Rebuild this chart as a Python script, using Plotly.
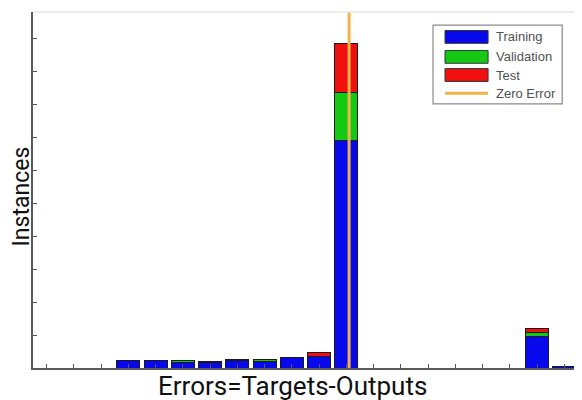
import plotly.graph_objects as go

# Error histogram with 20 bins (MATLAB ploterrhist style)
bin_centers = [-1.1, -1.0, -0.9, -0.8, -0.7, -0.6, -0.5, -0.4, -0.3, -0.2,
               -0.1, 0.0, 0.1, 0.2, 0.3, 0.4, 0.5, 0.6, 0.7, 0.8]
training =   [0, 0, 0, 22, 22, 18, 16, 22, 20, 32, 35, 690, 0, 0, 0, 0, 0, 0, 97, 5]
validation = [0, 0, 0, 0, 0, 4, 0, 0, 6, 0, 0, 145, 0, 0, 0, 0, 0, 0, 12, 0]
test =       [0, 0, 0, 0, 0, 0, 4, 5, 0, 0, 13, 148, 0, 0, 0, 0, 0, 0, 12, 0]
zero_error = 0.01

series_names = ["Training", "Validation", "Test"]
series_colors = ["#0808ec", "#14c814", "#f01010"]
zero_name = "Zero Error"
zero_color = "#f2b24a"

y_max = 1080
y_ticks = list(range(0, 1001, 100))

fig = go.Figure()
for name, vals, col in zip(series_names, [training, validation, test], series_colors):
    fig.add_trace(go.Bar(
        x=bin_centers, y=vals, name=name,
        marker=dict(color=col, line=dict(color="#1a1a1a", width=1)),
        showlegend=False,
    ))

fig.add_trace(go.Scatter(
    x=[zero_error, zero_error], y=[0, y_max], mode="lines",
    line=dict(color=zero_color, width=3), name=zero_name, showlegend=False,
))

# Custom legend (wide swatches like MATLAB)
shapes = []
annotations = []
lx0, lx1 = 0.734, 0.971
ly0, ly1 = 0.742, 0.963
shapes.append(dict(type="rect", xref="paper", yref="paper", x0=lx0, x1=lx1, y0=ly0, y1=ly1,
                   line=dict(color="#8a8a8a", width=1.2), fillcolor="white", layer="above"))
entry_y = [0.930, 0.874, 0.823, 0.772]
sw_x0, sw_x1 = 0.756, 0.835
half_h = 0.018
for i, (name, col) in enumerate(zip(series_names, series_colors)):
    yc = entry_y[i]
    shapes.append(dict(type="rect", xref="paper", yref="paper", x0=sw_x0, x1=sw_x1,
                       y0=yc - half_h, y1=yc + half_h, fillcolor=col,
                       line=dict(color="#333333", width=1), layer="above"))
for i, name in enumerate(series_names + [zero_name]):
    annotations.append(dict(xref="paper", yref="paper", x=0.845, y=entry_y[i], text=name,
                            showarrow=False, xanchor="left", yanchor="middle",
                            font=dict(family="Liberation Sans, Arial", size=13, color="#505050")))
shapes.append(dict(type="line", xref="paper", yref="paper", x0=sw_x0, x1=sw_x1,
                   y0=entry_y[3], y1=entry_y[3], line=dict(color=zero_color, width=3), layer="above"))
# faint top border
shapes.append(dict(type="line", xref="paper", yref="paper", x0=0, x1=1, y0=1, y1=1,
                   line=dict(color="#e6e6e6", width=1.5)))

annotations.append(dict(xref="paper", yref="paper", x=0.477, y=-0.051, text="Errors=Targets-Outputs",
                        showarrow=False, xanchor="center", yanchor="middle",
                        font=dict(family="Roboto", size=26, color="#111111")))
annotations.append(dict(xref="paper", yref="paper", x=-0.022, y=0.482, text="Instances",
                        showarrow=False, xanchor="center", yanchor="middle", textangle=-90,
                        font=dict(family="Roboto", size=23, color="#111111")))

# page body has an 8px margin, so the figure is sized/shifted to compensate
fig.update_layout(
    width=574, height=392,
    margin=dict(l=25, r=4, t=4, b=32),
    paper_bgcolor="white", plot_bgcolor="white",
    barmode="stack", bargap=0.16,
    shapes=shapes, annotations=annotations,
    showlegend=False,
    xaxis=dict(range=[-1.15, 0.85], tickvals=bin_centers, showticklabels=False,
               ticks="inside", ticklen=4, tickcolor="#555555", tickwidth=1,
               showline=True, linecolor="#5a5a5a", linewidth=1.5, showgrid=False, zeroline=False),
    yaxis=dict(range=[0, y_max], tickvals=y_ticks, showticklabels=False,
               ticks="inside", ticklen=4, tickcolor="#555555", tickwidth=1,
               showline=True, linecolor="#5a5a5a", linewidth=1.5, showgrid=False, zeroline=False),
)

fig.write_html("out.html")
